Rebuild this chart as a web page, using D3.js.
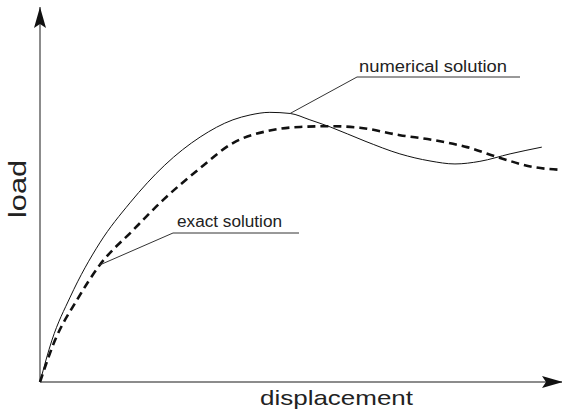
<!DOCTYPE html>
<html>
<head>
<meta charset="utf-8">
<script src="https://cdn.jsdelivr.net/npm/d3@7"></script>
<style>
  body { margin: 0; background: #fff; }
  text { font-family: "Liberation Sans", Arial, sans-serif; fill: #222; }
</style>
</head>
<body>
<div id="chart"></div>
<script>
// load-displacement curves (arbitrary units 0..100)
var numericalX = [0, 2.3, 5.8, 11.5, 17.3, 24.0, 30.8, 37.1, 40.4, 44.2, 48.1, 51.9, 55.8, 62.5, 69.2, 75.0, 79.8, 84.6, 90.4, 96.5];
var numericalY = [0, 11.2, 22.7, 37.2, 47.9, 58.0, 65.5, 70.1, 71.4, 72.1, 71.8, 70.1, 68.2, 64.4, 61.0, 59.1, 58.3, 59.0, 61.0, 62.8];

var exactX = [0, 2.9, 7.1, 11.5, 17.9, 23.7, 30.8, 37.1, 43.7, 50.0, 55.8, 61.5, 69.2, 75.6, 82.1, 88.5, 94.8, 100.4];
var exactY = [0, 11.2, 21.9, 31.3, 40.6, 48.7, 57.2, 63.9, 67.1, 68.2, 68.4, 68.0, 66.0, 64.7, 62.8, 59.9, 57.5, 56.7];

var labels = ["numerical solution", "exact solution"];
var axisLabels = ["displacement", "load"];

var width = 562, height = 411;

var svg = d3.select("#chart")
  .append("svg")
    .attr("width", width)
    .attr("height", height);

var x = d3.scaleLinear().domain([0, 100]).range([40, 560]);
var y = d3.scaleLinear().domain([0, 100]).range([382, 8]);

// arrow heads
var defs = svg.append("defs");
defs.append("marker")
    .attr("id", "arrow")
    .attr("viewBox", "-22 -7 23 14")
    .attr("refX", 0)
    .attr("refY", 0)
    .attr("markerUnits", "userSpaceOnUse")
    .attr("markerWidth", 23)
    .attr("markerHeight", 14)
    .attr("orient", "auto")
  .append("path")
    .attr("d", "M0,0 L-21,-6 L-17,0 L-21,6 Z")
    .style("fill", "#111");

// axes
svg.append("line")
    .attr("x1", x(0)).attr("y1", y(0))
    .attr("x2", x(0)).attr("y2", 7)
    .attr("marker-end", "url(#arrow)")
    .style("stroke", "#666").style("stroke-width", 1.5);

svg.append("line")
    .attr("x1", x(0)).attr("y1", y(0))
    .attr("x2", 563).attr("y2", y(0))
    .attr("marker-end", "url(#arrow)")
    .style("stroke", "#666").style("stroke-width", 1.5);

var line = d3.line()
    .x(function(d) { return x(d[0]); })
    .y(function(d) { return y(d[1]); })
    .curve(d3.curveMonotoneX);

var numerical = d3.zip(numericalX, numericalY);
var exact = d3.zip(exactX, exactY);

svg.append("path")
    .datum(numerical)
    .attr("d", line)
    .style("fill", "none")
    .style("stroke", "#111")
    .style("stroke-width", 1);

svg.append("path")
    .datum(exact)
    .attr("d", line)
    .style("fill", "none")
    .style("stroke", "#111")
    .style("stroke-width", 2.6)
    .style("stroke-dasharray", "8,5");

// annotations: leader from a curve point to an underline
function annotate(pt, ux1, ux2, uy, label, tx, ty, len) {
  svg.append("polyline")
      .attr("points", [[x(pt[0]), y(pt[1])], [ux1, uy], [ux2, uy]].join(" "))
      .style("fill", "none")
      .style("stroke", "#333")
      .style("stroke-width", 1);
  svg.append("text")
      .attr("x", tx).attr("y", ty)
      .attr("textLength", len)
      .attr("lengthAdjust", "spacingAndGlyphs")
      .style("font-size", "16px")
      .text(label);
}

annotate(numerical[10], 357, 520, 77, labels[0], 359, 72, 148);
annotate(exact[3], 173, 299, 233, labels[1], 177, 227, 105);

// axis titles
svg.append("text")
    .attr("x", 260).attr("y", 405)
    .attr("textLength", 153)
    .attr("lengthAdjust", "spacingAndGlyphs")
    .style("font-size", "21px")
    .text(axisLabels[0]);

svg.append("text")
    .attr("transform", "translate(26,218) rotate(-90)")
    .attr("textLength", 58)
    .attr("lengthAdjust", "spacingAndGlyphs")
    .style("font-size", "23px")
    .text(axisLabels[1]);
</script>
</body>
</html>
